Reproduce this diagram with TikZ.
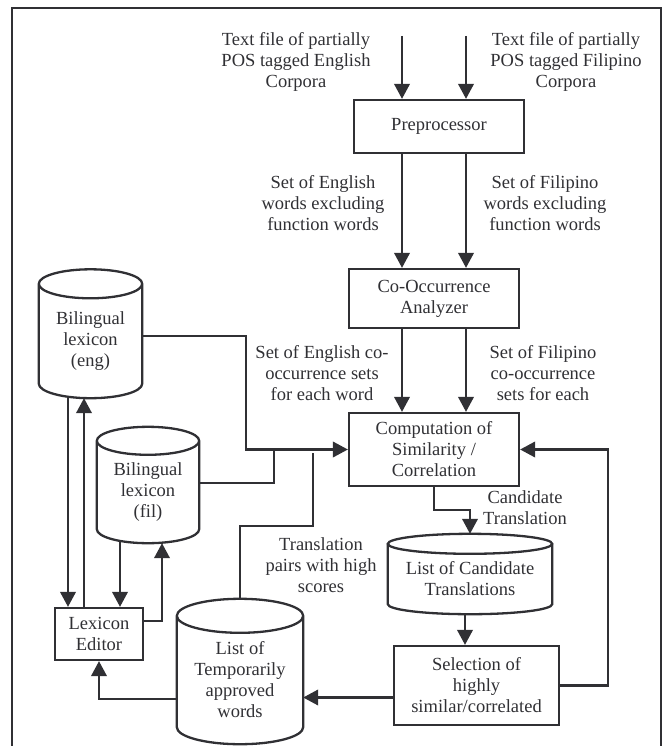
\documentclass[tikz,border=0pt]{standalone}
\usepackage{fontspec}
\setmainfont{Liberation Serif}
\usetikzlibrary{arrows.meta,calc}
\definecolor{ink}{RGB}{48,48,52}
\newcommand\dbcyl[2]{%
 \draw[ln] let \p1=(#1.north west), \p2=(#1.south east) in
 ({(\x1+\x2)/2},\y1) ellipse [x radius={(\x2-\x1)/2}, y radius=#2pt]
 (\x1,\y1) -- (\x1,{\y2+#2pt}) arc [start angle=180, end angle=360, x radius={(\x2-\x1)/2}, y radius=#2pt] -- (\x2,\y1);}
\begin{document}
\begin{tikzpicture}[x=1pt,y=-1pt,
  ln/.style={draw=ink, line width=2.3pt},
  arr/.style={ln, -{Triangle[length=15pt,width=15.5pt]}},
  txt/.style={align=center, inner sep=0pt, font=\fontsize{18.5}{21}\selectfont, text=ink},
  bx/.style={txt, ln},
  cy/.style={txt}]
\useasboundingbox (0,0) rectangle (662,746);
\draw[ln] (12,748) -- (12,8) -- (661,8) -- (661,748);

% boxes
\node[bx, minimum width=170pt, minimum height=53pt] (pre) at (439,126.5) {Preprocessor};
\node[bx, minimum width=170pt, minimum height=59pt] (coa) at (434,298.5) {Co-Occurrence\\Analyzer};
\node[bx, minimum width=170pt, minimum height=73pt] (comp) at (434,449.5) {Computation of\\Similarity /\\Correlation};
\node[bx, minimum width=165pt, minimum height=79pt] (sel) at (476.5,685.5) {Selection of\\highly\\similar/correlated};
\node[bx, minimum width=88pt, minimum height=52pt] (led) at (99,634) {Lexicon\\Editor};

% cylinders
\node[cy, minimum width=103pt, minimum height=114pt] (eng) at (90.5,341) {Bilingual\\lexicon\\(eng)};
\node[cy, minimum width=102pt, minimum height=102pt] (fil) at (148,492) {Bilingual\\lexicon\\(fil)};
\node[cy, minimum width=164pt, minimum height=70pt] (cand) at (470,579) {List of Candidate\\Translations};
\node[cy, minimum width=126pt, minimum height=128pt] (temp) at (240,680) {List of\\Temporarily\\approved\\words};
\dbcyl{eng}{14.5}
\dbcyl{fil}{14}
\dbcyl{cand}{10}
\dbcyl{temp}{17}

% labels
\node[txt] (tE) at (296,62) {Text file of partially\\POS tagged English\\Corpora};
\node[txt] (tF) at (566,62) {Text file of partially\\POS tagged Filipino\\Corpora};
\node[txt] (sE) at (323,203) {Set of English\\words excluding\\function words};
\node[txt] (sF) at (545,203) {Set of Filipino\\words excluding\\function words};
\node[txt] (cE) at (322,373) {Set of English co-\\occurrence sets\\for each word};
\node[txt] (cF) at (543,373) {Set of Filipino\\co-occurrence\\sets for each};
\node[txt] (cT) at (525,508) {Candidate\\Translation};
\node[txt] (tp) at (321,565) {Translation\\pairs with high\\scores};

% free ends
\coordinate (inE) at (402,36);
\coordinate (inF) at (466,36);
\coordinate (j1) at (274,449.5);
\coordinate (j2) at (313,453);

% connectors
\draw[arr] (inE) -- (inE |- pre.north);
\draw[arr] (inF) -- (inF |- pre.north);
\draw[arr] ([xshift=-37pt]pre.south) -- ([xshift=-32pt]coa.north);
\draw[arr] ([xshift=27pt]pre.south) -- ([xshift=32pt]coa.north);
\draw[arr] ([xshift=-32pt]coa.south) -- ([xshift=-32pt]comp.north);
\draw[arr] ([xshift=32pt]coa.south) -- ([xshift=32pt]comp.north);
\draw[arr] ([yshift=5pt]eng.east) -- ++(104,0) |- (comp.west);
\draw[ln] ([yshift=9pt]fil.east) -| (j1);
\draw[ln] ([yshift=17pt]temp.north) -- ++(0,-73) -| (j2);
\draw[arr] (comp.south) -- ++(0,23) -| ([yshift=10pt]cand.north);
\draw[arr] ([xshift=-5pt]cand.south) -- ([xshift=-5pt]cand.south |- sel.north);
\draw[arr] (sel.east) -- ++(48,0) |- (comp.east);
\draw[arr] ([yshift=-12pt]sel.west) -- ([yshift=-12pt]sel.west -| temp.east);
\draw[arr] ([yshift=-19pt]temp.west) -| (led.south);
\draw[arr] ([xshift=-22.5pt,yshift=1.5pt]eng.south) -- ([xshift=-22.5pt]eng.south |- led.north);
\draw[arr] ([xshift=-15pt]led.north) -- ([xshift=-15pt]led.north |- eng.south);
\draw[arr] ([xshift=-28pt,yshift=2pt]fil.south) -- ([xshift=-28pt]fil.south |- led.north);
\draw[arr] ([yshift=13pt]led.east) -| ([xshift=14pt]fil.south);
\end{tikzpicture}
\end{document}
